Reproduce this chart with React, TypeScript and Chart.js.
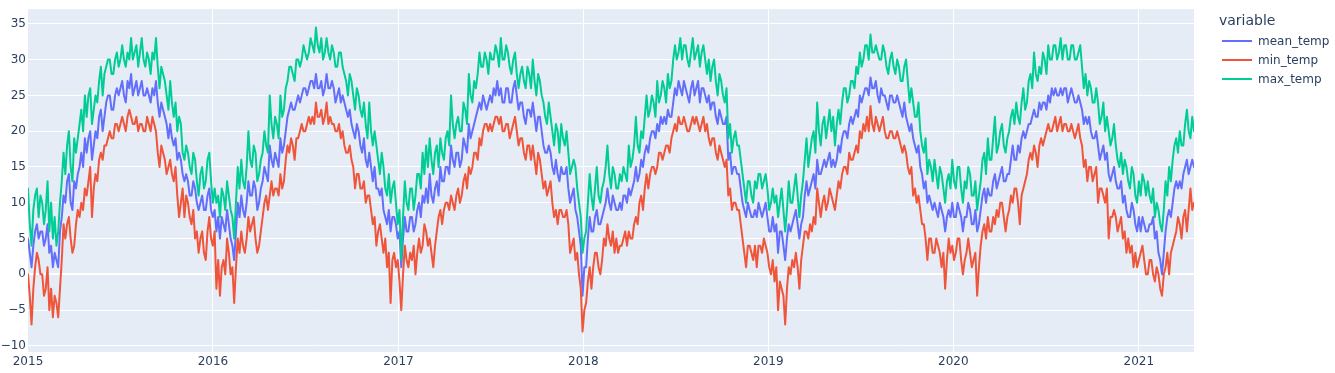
import React, { useEffect, useRef } from 'react';
import { Chart, registerables } from 'chart.js';

Chart.register(...registerables);

// Readings sampled about twice a week, from 2015-01-01 to 2021-04-20
const startDate = '2015-01-01';
const endDate = '2021-04-20';

const yearLabels = ['2015', '2016', '2017', '2018', '2019', '2020', '2021'];
const yTickValues = [-10, -5, 0, 5, 10, 15, 20, 25, 30, 35];

const seriesNames = ['mean_temp', 'min_temp', 'max_temp'];
const seriesColors = ['#636efa', '#EF553B', '#00cc96'];

const maxTemp = [
  12, 7, 4, 9, 11, 12, 8, 11, 10, 7,
  9, 13, 6, 10, 5, 8, 4, 6, 10, 13,
  17, 14, 18, 20, 15, 13, 19, 17, 19, 21,
  23, 20, 25, 22, 25, 26, 21, 23, 25, 24,
  27, 29, 25, 28, 29, 30, 30, 28, 28, 30,
  31, 29, 30, 32, 30, 29, 31, 30, 33, 30,
  31, 32, 29, 31, 33, 30, 29, 31, 30, 28,
  31, 30, 33, 29, 26, 29, 28, 27, 25, 23,
  27, 24, 22, 24, 20, 22, 21, 17, 16, 18,
  17, 15, 14, 17, 16, 13, 11, 14, 15, 12,
  13, 16, 17, 13, 10, 12, 10, 11, 8, 12,
  11, 9, 13, 11, 9, 8, 5, 10, 15, 12,
  16, 13, 12, 15, 20, 16, 15, 18, 17, 13,
  14, 16, 17, 20, 18, 17, 25, 21, 19, 22,
  21, 19, 25, 22, 23, 26, 27, 29, 29, 28,
  27, 30, 30, 29, 30, 32, 31, 30, 31, 33,
  32, 31, 34.5, 32, 31, 33, 30, 31, 33, 31,
  30, 32, 31, 29, 29, 31, 31, 29, 28, 27,
  25, 28, 27, 25, 23, 26, 25, 23, 22, 24,
  21, 19, 24, 20, 18, 20, 18, 16, 14, 17,
  15, 12, 11, 14, 10, 12, 13, 10, 7, 9,
  2, 8, 13, 10, 9, 12, 12, 9, 11, 14,
  14, 12, 17, 14, 18, 15, 19, 16, 14, 17,
  18, 15, 19, 17, 16, 19, 20, 18, 25, 21,
  19, 21, 22, 20, 20, 24, 23, 21, 28, 25,
  24, 27, 26, 28, 31, 29, 29, 31, 30, 28,
  31, 30, 30, 32, 31, 29, 33, 30, 30, 32,
  31, 29, 28, 30, 31, 28, 26, 28, 29, 27,
  26, 29, 28, 26, 30, 27, 25, 28, 27, 25,
  24, 22, 21, 24, 22, 20, 18, 21, 20, 17,
  21, 19, 18, 20, 17, 14, 15, 16, 15, 12,
  10, 8, 3, 5, 6, 10, 14, 11, 9, 12,
  15, 11, 10, 12, 13, 15, 18, 14, 12, 15,
  14, 12, 12, 14, 13, 15, 14, 13, 18, 15,
  16, 18, 22, 18, 17, 20, 19, 22, 25, 22,
  23, 25, 24, 22, 27, 24, 25, 27, 26, 24,
  28, 26, 27, 30, 32, 30, 31, 33, 30, 32,
  32, 30, 29, 31, 33, 30, 31, 32, 29, 31,
  32, 30, 28, 30, 27, 29, 30, 27, 25, 28,
  27, 25, 24, 26, 19, 21, 17, 19, 20, 18,
  18, 16, 14, 12, 10, 13, 13, 11, 10, 13,
  12, 14, 14, 12, 13, 14, 12, 9, 10, 12,
  10, 11, 8, 10, 12, 9, 6, 9, 13, 10,
  10, 12, 14, 11, 8, 11, 13, 16, 19, 15,
  17, 19, 20, 17, 24, 20, 18, 21, 22, 19,
  21, 23, 20, 22, 18, 21, 23, 21, 24, 26,
  26, 24, 25, 27, 27, 26, 29, 28, 31, 29,
  30, 32, 32, 30, 33.5, 31, 31, 32, 31, 30,
  30, 32, 31, 29, 28, 30, 31, 29, 28, 30,
  29, 27, 27, 29, 30, 27, 24, 26, 24, 22,
  22, 24, 20, 18, 17, 19, 14, 16, 15, 13,
  16, 14, 12, 15, 14, 12, 10, 13, 14, 12,
  16, 13, 12, 15, 15, 12, 10, 13, 12, 15,
  14, 11, 11, 13, 9, 11, 13, 16, 17, 14,
  19, 16, 16, 19, 22, 17, 18, 20, 21, 18,
  17, 19, 20, 22, 23, 21, 24, 22, 21, 24,
  26, 23, 24, 27, 28, 26, 31, 28, 27, 29,
  28, 31, 30, 28, 32, 30, 30, 32, 32, 30,
  31, 33, 30, 32, 32, 30, 30, 32, 32, 30,
  30, 31, 32, 29, 26, 28, 25, 27, 26, 24,
  24, 26, 24, 21, 22, 24, 20, 22, 20, 18,
  19, 21, 18, 16, 15, 17, 14, 16, 15, 13,
  12, 15, 14, 11, 10, 13, 11, 14, 13, 11,
  13, 11, 10, 12, 8, 10, 9, 7, 6, 9,
  13, 11, 15, 13, 16, 18, 19, 17, 20, 18,
  18, 21, 23, 20, 19, 22, 20,
];

const meanTemp = [
  5, 3, 1, 4, 6, 7, 5, 6, 6, 4,
  5, 7, 3, 4, 1, 3, 2, 1, 6, 8,
  11, 10, 13, 14, 10, 9, 13, 12, 14, 15,
  17, 15, 19, 17, 19, 20, 16, 18, 20, 19,
  22, 23, 20, 22, 24, 25, 25, 23, 23, 25,
  26, 25, 26, 27, 25, 24, 27, 26, 28, 25,
  26, 27, 25, 26, 27, 25, 25, 26, 25, 24,
  26, 25, 27, 24, 22, 24, 23, 22, 21, 19,
  21, 19, 18, 19, 16, 17, 16, 14, 13, 14,
  13, 11, 11, 13, 12, 10, 9, 10, 11, 9,
  9, 11, 12, 9, 8, 9, 6, 8, 5, 8,
  7, 6, 9, 7, 5, 4, 2, 6, 10, 8,
  11, 9, 8, 10, 13, 11, 11, 13, 12, 9,
  10, 12, 13, 15, 14, 13, 18, 16, 15, 17,
  16, 15, 19, 17, 18, 20, 22, 23, 24, 23,
  23, 24, 25, 24, 25, 26, 26, 25, 26, 27,
  27, 26, 28, 26, 26, 27, 25, 26, 28, 26,
  26, 27, 26, 24, 25, 26, 24, 25, 24, 23,
  22, 23, 21, 20, 19, 21, 20, 18, 17, 19,
  16, 15, 17, 15, 13, 15, 12, 12, 11, 12,
  9, 8, 7, 9, 6, 8, 8, 7, 5, 6,
  1, 5, 8, 6, 6, 8, 8, 6, 7, 9,
  10, 8, 11, 10, 12, 10, 14, 11, 10, 12,
  13, 11, 15, 13, 13, 15, 15, 14, 18, 16,
  15, 17, 17, 15, 16, 19, 18, 17, 21, 19,
  20, 21, 22, 23, 24, 23, 25, 24, 23, 24,
  25, 24, 26, 25, 27, 25, 26, 24, 24, 26,
  26, 24, 24, 26, 27, 25, 23, 24, 24, 22,
  21, 23, 23, 22, 24, 22, 20, 22, 22, 20,
  18, 17, 17, 18, 17, 15, 14, 16, 14, 13,
  15, 14, 14, 15, 12, 10, 11, 12, 9, 8,
  6, 4, -3, 1, 1, 5, 8, 6, 6, 8,
  9, 7, 7, 8, 9, 10, 12, 10, 9, 11,
  10, 9, 9, 10, 9, 11, 11, 10, 12, 11,
  12, 13, 15, 13, 14, 16, 15, 17, 18, 17,
  19, 20, 20, 19, 21, 20, 22, 21, 22, 21,
  23, 22, 22, 24, 26, 25, 27, 26, 25, 27,
  26, 25, 24, 26, 27, 25, 26, 27, 24, 26,
  26, 25, 24, 25, 23, 24, 24, 22, 21, 23,
  22, 21, 21, 22, 16, 17, 14, 15, 15, 14,
  14, 12, 10, 9, 8, 10, 9, 8, 8, 9,
  8, 10, 9, 8, 9, 10, 8, 6, 6, 8,
  6, 7, 3, 6, 6, 4, 2, 5, 7, 6,
  7, 8, 9, 7, 5, 7, 8, 11, 13, 11,
  12, 13, 14, 12, 16, 14, 14, 15, 16, 15,
  16, 17, 15, 16, 15, 16, 18, 17, 19, 20,
  20, 19, 21, 22, 21, 22, 23, 22, 25, 24,
  25, 26, 26, 25, 27.5, 26, 26, 27, 25, 24,
  26, 25, 25, 24, 23, 25, 25, 24, 24, 25,
  24, 23, 22, 24, 22, 21, 20, 21, 19, 18,
  17, 18, 15, 14, 12, 13, 10, 11, 10, 9,
  10, 9, 8, 10, 9, 8, 6, 8, 9, 8,
  10, 8, 8, 10, 9, 8, 6, 8, 8, 10,
  9, 7, 7, 9, 6, 7, 9, 11, 12, 10,
  12, 11, 11, 13, 14, 12, 13, 14, 15, 13,
  13, 14, 14, 16, 18, 16, 16, 18, 17, 19,
  20, 19, 20, 21, 21, 22, 23, 22, 22, 24,
  23, 24, 24, 23, 25, 24, 26, 25, 26, 25,
  25, 26, 25, 26, 26, 24, 25, 26, 25, 24,
  24, 25, 24, 23, 21, 22, 21, 22, 20, 19,
  19, 20, 18, 16, 17, 18, 16, 17, 14, 13,
  14, 15, 13, 12, 12, 13, 10, 11, 9, 8,
  8, 10, 9, 7, 6, 8, 6, 8, 7, 6,
  6, 7, 7, 8, 5, 6, 3, 2, 0, 3,
  6, 8, 9, 8, 10, 12, 13, 12, 13, 12,
  14, 15, 16, 14, 15, 16, 15,
];

const minTemp = [
  0, -3, -7, -2, 1, 3, 2, 0, 0, -3,
  -2, 1, -5, -2, -6, -3, -4, -6, -2, 2,
  7, 5, 7, 8, 5, 3, 4, 7, 9, 8,
  10, 9, 12, 11, 13, 15, 8, 12, 14, 13,
  16, 17, 16, 18, 18, 19, 20, 19, 19, 21,
  21, 20, 21, 22, 21, 20, 22, 23, 22, 21,
  21, 22, 20, 21, 21, 20, 20, 22, 21, 20,
  22, 21, 20, 17, 15, 18, 17, 16, 14, 15,
  16, 14, 13, 15, 11, 8, 10, 12, 8, 11,
  10, 8, 7, 9, 5, 6, 3, 5, 6, 3,
  2, 6, 8, 5, 4, 6, -2, 2, -3, 1,
  2, 0, 5, 3, 0, 1, -4, 1, 5, 3,
  6, 4, 3, 5, 8, 6, 7, 8, 5, 3,
  4, 6, 8, 10, 11, 9, 11, 13, 11, 12,
  12, 11, 14, 12, 13, 16, 18, 17, 19, 18,
  16, 19, 19, 20, 21, 20, 20, 21, 22, 21,
  22, 21, 24, 22, 22, 23, 21, 22, 24, 21,
  22, 21, 21, 20, 20, 21, 19, 20, 18, 17,
  17, 18, 16, 15, 12, 14, 14, 12, 12, 13,
  10, 11, 11, 9, 7, 8, 4, 6, 7, 5,
  3, 5, 1, 3, -4, 2, 3, 1, 2, -1,
  -5, 0, 4, 2, 1, 3, 2, 4, 0, 3,
  5, 3, 4, 7, 6, 4, 5, 3, 1, 4,
  6, 8, 9, 7, 9, 10, 10, 9, 11, 10,
  9, 11, 12, 10, 11, 13, 14, 12, 15, 14,
  15, 17, 17, 16, 19, 18, 20, 21, 21, 20,
  21, 20, 21, 22, 22, 21, 22, 20, 20, 21,
  21, 19, 20, 21, 22, 20, 18, 19, 19, 17,
  16, 18, 18, 16, 18, 16, 14, 17, 16, 14,
  12, 13, 11, 12, 13, 10, 8, 9, 7, 9,
  9, 8, 8, 9, 7, 3, 4, 5, 2, 3,
  0, -2, -8, -5, -4, -1, 1, -2, 1, 3,
  3, 1, 0, 2, 5, 4, 7, 5, 4, 6,
  3, 5, 3, 4, 4, 5, 6, 4, 6, 5,
  5, 7, 8, 7, 10, 11, 9, 12, 14, 12,
  14, 15, 15, 14, 15, 17, 17, 16, 17, 18,
  18, 17, 19, 20, 21, 20, 22, 21, 21, 22,
  21, 20, 20, 21, 22, 21, 22, 21, 20, 21,
  22, 20, 21, 19, 18, 19, 19, 17, 16, 18,
  17, 16, 15, 16, 11, 12, 9, 10, 10, 9,
  9, 7, 5, 3, 1, 4, 4, 3, 2, 4,
  1, 4, 4, 3, 5, 4, 3, 1, 0, 2,
  -1, 1, -5, -1, -2, -3, -7, -2, 1, 0,
  2, 1, 3, 1, -2, 2, 4, 6, 6, 5,
  7, 6, 8, 7, 12, 10, 8, 10, 11, 9,
  10, 12, 11, 10, 9, 11, 13, 12, 14, 15,
  15, 14, 17, 16, 16, 17, 18, 17, 20, 19,
  21, 20, 22, 20, 23.5, 21, 20, 22, 21, 20,
  21, 22, 20, 19, 19, 20, 20, 19, 19, 20,
  19, 18, 17, 18, 17, 15, 14, 15, 11, 12,
  10, 11, 9, 7, 7, 5, 2, 5, 5, 3,
  3, 5, 4, 3, 1, 3, -2, 2, 5, 3,
  4, 2, 3, 5, 5, 2, 0, 2, 3, 5,
  3, 1, 2, 3, -3, 1, 4, 6, 7, 5,
  8, 6, 6, 8, 7, 9, 8, 10, 10, 8,
  6, 8, 9, 11, 10, 12, 12, 10, 7, 11,
  12, 13, 14, 16, 17, 16, 18, 17, 15, 18,
  19, 18, 19, 20, 21, 20, 20, 21, 22, 20,
  21, 22, 20, 21, 21, 20, 20, 21, 20, 19,
  20, 21, 19, 18, 15, 16, 13, 15, 15, 13,
  14, 15, 10, 12, 12, 11, 10, 12, 5, 8,
  8, 9, 8, 6, 7, 8, 5, 6, 3, 5,
  3, 4, 1, 3, 1, 2, 3, 4, 2, 0,
  0, 2, 2, 0, -1, 1, 0, -2, -3, 0,
  1, 3, 0, 3, 4, 5, 6, 8, 7, 5,
  8, 9, 6, 9, 12, 9, 10,
];

const FONT = '"DejaVu Sans", Verdana, sans-serif';
const TEXT_COLOR = '#2a3f5f';

export default function App() {
  const canvasRef = useRef<HTMLCanvasElement | null>(null);

  useEffect(() => {
    const DAY = 86400000;
    const t0 = Date.parse(startDate + 'T00:00:00Z');
    const span = (Date.parse(endDate + 'T00:00:00Z') - t0) / DAY;
    const toPoints = (arr: number[]) =>
      arr.map((v, i) => ({ x: (i * span) / (arr.length - 1), y: v }));
    const yearPos = yearLabels.map((y) => (Date.UTC(Number(y), 0, 1) - t0) / DAY);

    const bgPlugin = {
      id: 'plotBg',
      beforeDraw(chart: any) {
        const { ctx, chartArea: a } = chart;
        ctx.save();
        ctx.fillStyle = '#E5ECF6';
        ctx.fillRect(a.left, a.top, a.right - a.left, a.bottom - a.top);
        ctx.restore();
      },
    };

    const seriesData = [meanTemp, minTemp, maxTemp];

    const chart = new Chart(canvasRef.current as HTMLCanvasElement, {
      type: 'line',
      data: {
        datasets: seriesData.map((arr, k) => ({
          label: seriesNames[k],
          data: toPoints(arr),
          borderColor: seriesColors[k],
          backgroundColor: seriesColors[k],
          borderWidth: 2,
          pointRadius: 0,
          tension: 0,
          fill: false,
          borderJoinStyle: 'round' as const,
          borderCapStyle: 'round' as const,
          order: 2 - k,
        })),
      },
      options: {
        responsive: false,
        maintainAspectRatio: false,
        devicePixelRatio: 1,
        animation: false,
        events: [],
        layout: { padding: { left: 0, top: 7, right: 141, bottom: 0 } },
        plugins: {
          legend: { display: false },
          tooltip: { enabled: false },
        },
        scales: {
          x: {
            type: 'linear',
            min: 0,
            max: span,
            afterBuildTicks: (s: any) => {
              s.ticks = yearPos.map((v) => ({ value: v }));
            },
            afterFit: (s: any) => {
              s.height = 21;
            },
            grid: {
              color: (c: any) => (c.index === 0 ? 'rgba(0,0,0,0)' : '#ffffff'),
              lineWidth: 1,
              drawTicks: false,
            },
            border: { display: false },
            ticks: {
              padding: 3,
              color: TEXT_COLOR,
              font: { family: FONT, size: 12 },
              maxRotation: 0,
              autoSkip: false,
              callback: (_v: any, i: number) => yearLabels[i],
            },
          },
          y: {
            type: 'linear',
            min: -10.85,
            max: 37.04,
            afterBuildTicks: (s: any) => {
              s.ticks = yTickValues.map((v) => ({ value: v }));
            },
            afterFit: (s: any) => {
              s.width = 28;
            },
            grid: {
              color: '#ffffff',
              lineWidth: (c: any) => (c.tick && c.tick.value === 0 ? 2 : 1),
              drawTicks: false,
            },
            border: { display: false },
            ticks: {
              padding: 2,
              color: TEXT_COLOR,
              font: { family: FONT, size: 12 },
              autoSkip: false,
              callback: (v: any) => (v < 0 ? '\u2212' + Math.abs(v) : String(v)),
            },
          },
        },
      },
      plugins: [bgPlugin],
    } as any);

    return () => chart.destroy();
  }, []);

  const legendRows = seriesNames.map((name, k) => (
    <div key={name}>
      <div
        style={{
          position: 'absolute',
          left: 1222,
          top: 40 + k * 19,
          width: 30,
          height: 2,
          background: seriesColors[k],
        }}
      />
      <div
        style={{
          position: 'absolute',
          left: 1258,
          top: 34 + k * 19,
          lineHeight: '14px',
          fontSize: 12,
          fontFamily: FONT,
          color: TEXT_COLOR,
          whiteSpace: 'nowrap',
        }}
      >
        {name}
      </div>
    </div>
  ));

  return (
    <div
      style={{
        position: 'absolute',
        left: 0,
        top: 0,
        width: 1335,
        height: 373,
        background: '#ffffff',
      }}
    >
      <canvas
        ref={canvasRef}
        width={1335}
        height={373}
        style={{ display: 'block', width: 1335, height: 373 }}
      />
      <div
        style={{
          position: 'absolute',
          left: 1219,
          top: 12,
          lineHeight: '16px',
          fontSize: 14,
          fontFamily: FONT,
          color: TEXT_COLOR,
        }}
      >
        variable
      </div>
      {legendRows}
    </div>
  );
}
